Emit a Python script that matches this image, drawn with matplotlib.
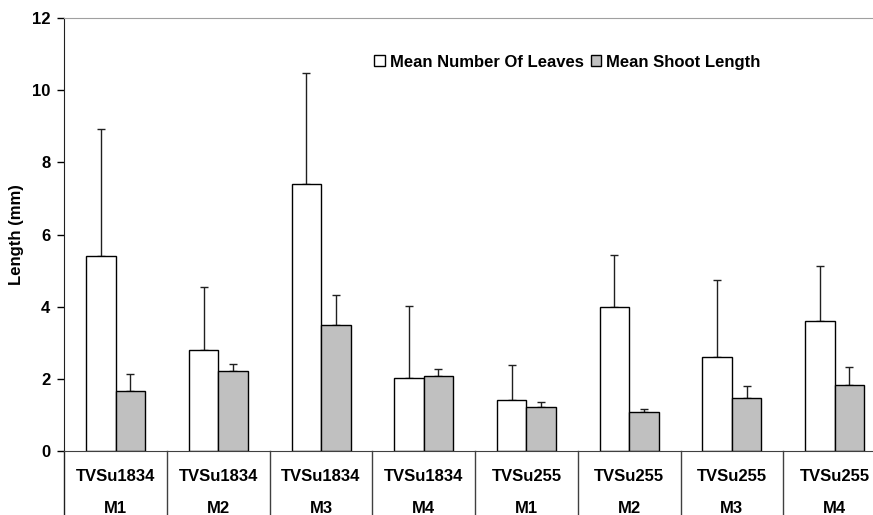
import matplotlib.pyplot as plt
import matplotlib.transforms as mtransforms
import numpy as np

plt.rcParams['font.family'] = ['Liberation Sans', 'DejaVu Sans']
plt.rcParams['font.weight'] = 'bold'

varieties = ['TVSu1834', 'TVSu1834', 'TVSu1834', 'TVSu1834',
             'TVSu255', 'TVSu255', 'TVSu255', 'TVSu255']
media = ['M1', 'M2', 'M3', 'M4', 'M1', 'M2', 'M3', 'M4']
leaves = [5.41, 2.81, 7.41, 2.01, 1.40, 4.00, 2.61, 3.60]
leaves_err = [3.50, 1.74, 3.07, 2.00, 0.98, 1.43, 2.14, 1.52]
shoot = [1.67, 2.23, 3.50, 2.09, 1.23, 1.09, 1.47, 1.84]
shoot_err = [0.46, 0.19, 0.83, 0.19, 0.14, 0.07, 0.33, 0.50]

fig = plt.figure(figsize=(8.73, 5.15), dpi=100)
ax = fig.add_axes([64.3 / 873, 1 - 451 / 515, 8 * 102.7 / 873, 433 / 515])

x = np.arange(len(media))
w = 0.287
ax.errorbar(x - w / 2, leaves, yerr=[np.zeros(len(x)), leaves_err], fmt='none',
            ecolor='#202020', elinewidth=1, capsize=3, capthick=1, zorder=1)
ax.errorbar(x + w / 2, shoot, yerr=[np.zeros(len(x)), shoot_err], fmt='none',
            ecolor='#202020', elinewidth=1, capsize=3, capthick=1, zorder=1)
ax.bar(x - w / 2, leaves, w, color='white', edgecolor='black', linewidth=1,
       label='Mean Number Of Leaves', zorder=2)
ax.bar(x + w / 2, shoot, w, color='#c0c0c0', edgecolor='black', linewidth=1,
       label='Mean Shoot Length', zorder=2)

ax.set_xlim(-0.5, len(x) - 0.5)
ax.set_ylim(0, 12)
ax.set_yticks(np.arange(0, 13, 2))
ax.tick_params(axis='y', direction='out', length=5, labelsize=12, width=1, pad=5)
ax.set_xticks([])
ax.set_ylabel('Length (mm)', fontsize=12, fontweight='bold', labelpad=6)

ax.spines['right'].set_visible(False)
ax.spines['top'].set_color('#a0a0a0')
ax.spines['bottom'].set_color('#404040')
ax.spines['left'].set_color('#202020')

# category separators and labels below the axis
trans = mtransforms.blended_transform_factory(ax.transData, ax.transAxes)
for b in np.arange(-0.5, len(x), 1.0):
    ax.plot([b, b], [0, -0.16], transform=trans, color='#404040' if b > -0.5 else '#202020',
            linewidth=1, clip_on=False)
for i in x:
    ax.text(i, -0.058, varieties[i], transform=trans, ha='center', va='center',
            fontsize=12, fontweight='bold')
    ax.text(i, -0.132, media[i], transform=trans, ha='center', va='center',
            fontsize=12, fontweight='bold')

ax.legend(loc='center left', bbox_to_anchor=(0.359, 0.898), ncol=2, frameon=False,
          handlelength=0.65, handleheight=0.65, handletextpad=0.3,
          columnspacing=0.4, prop={'weight': 'bold', 'size': 12})

fig.savefig('out.png', dpi=100)
